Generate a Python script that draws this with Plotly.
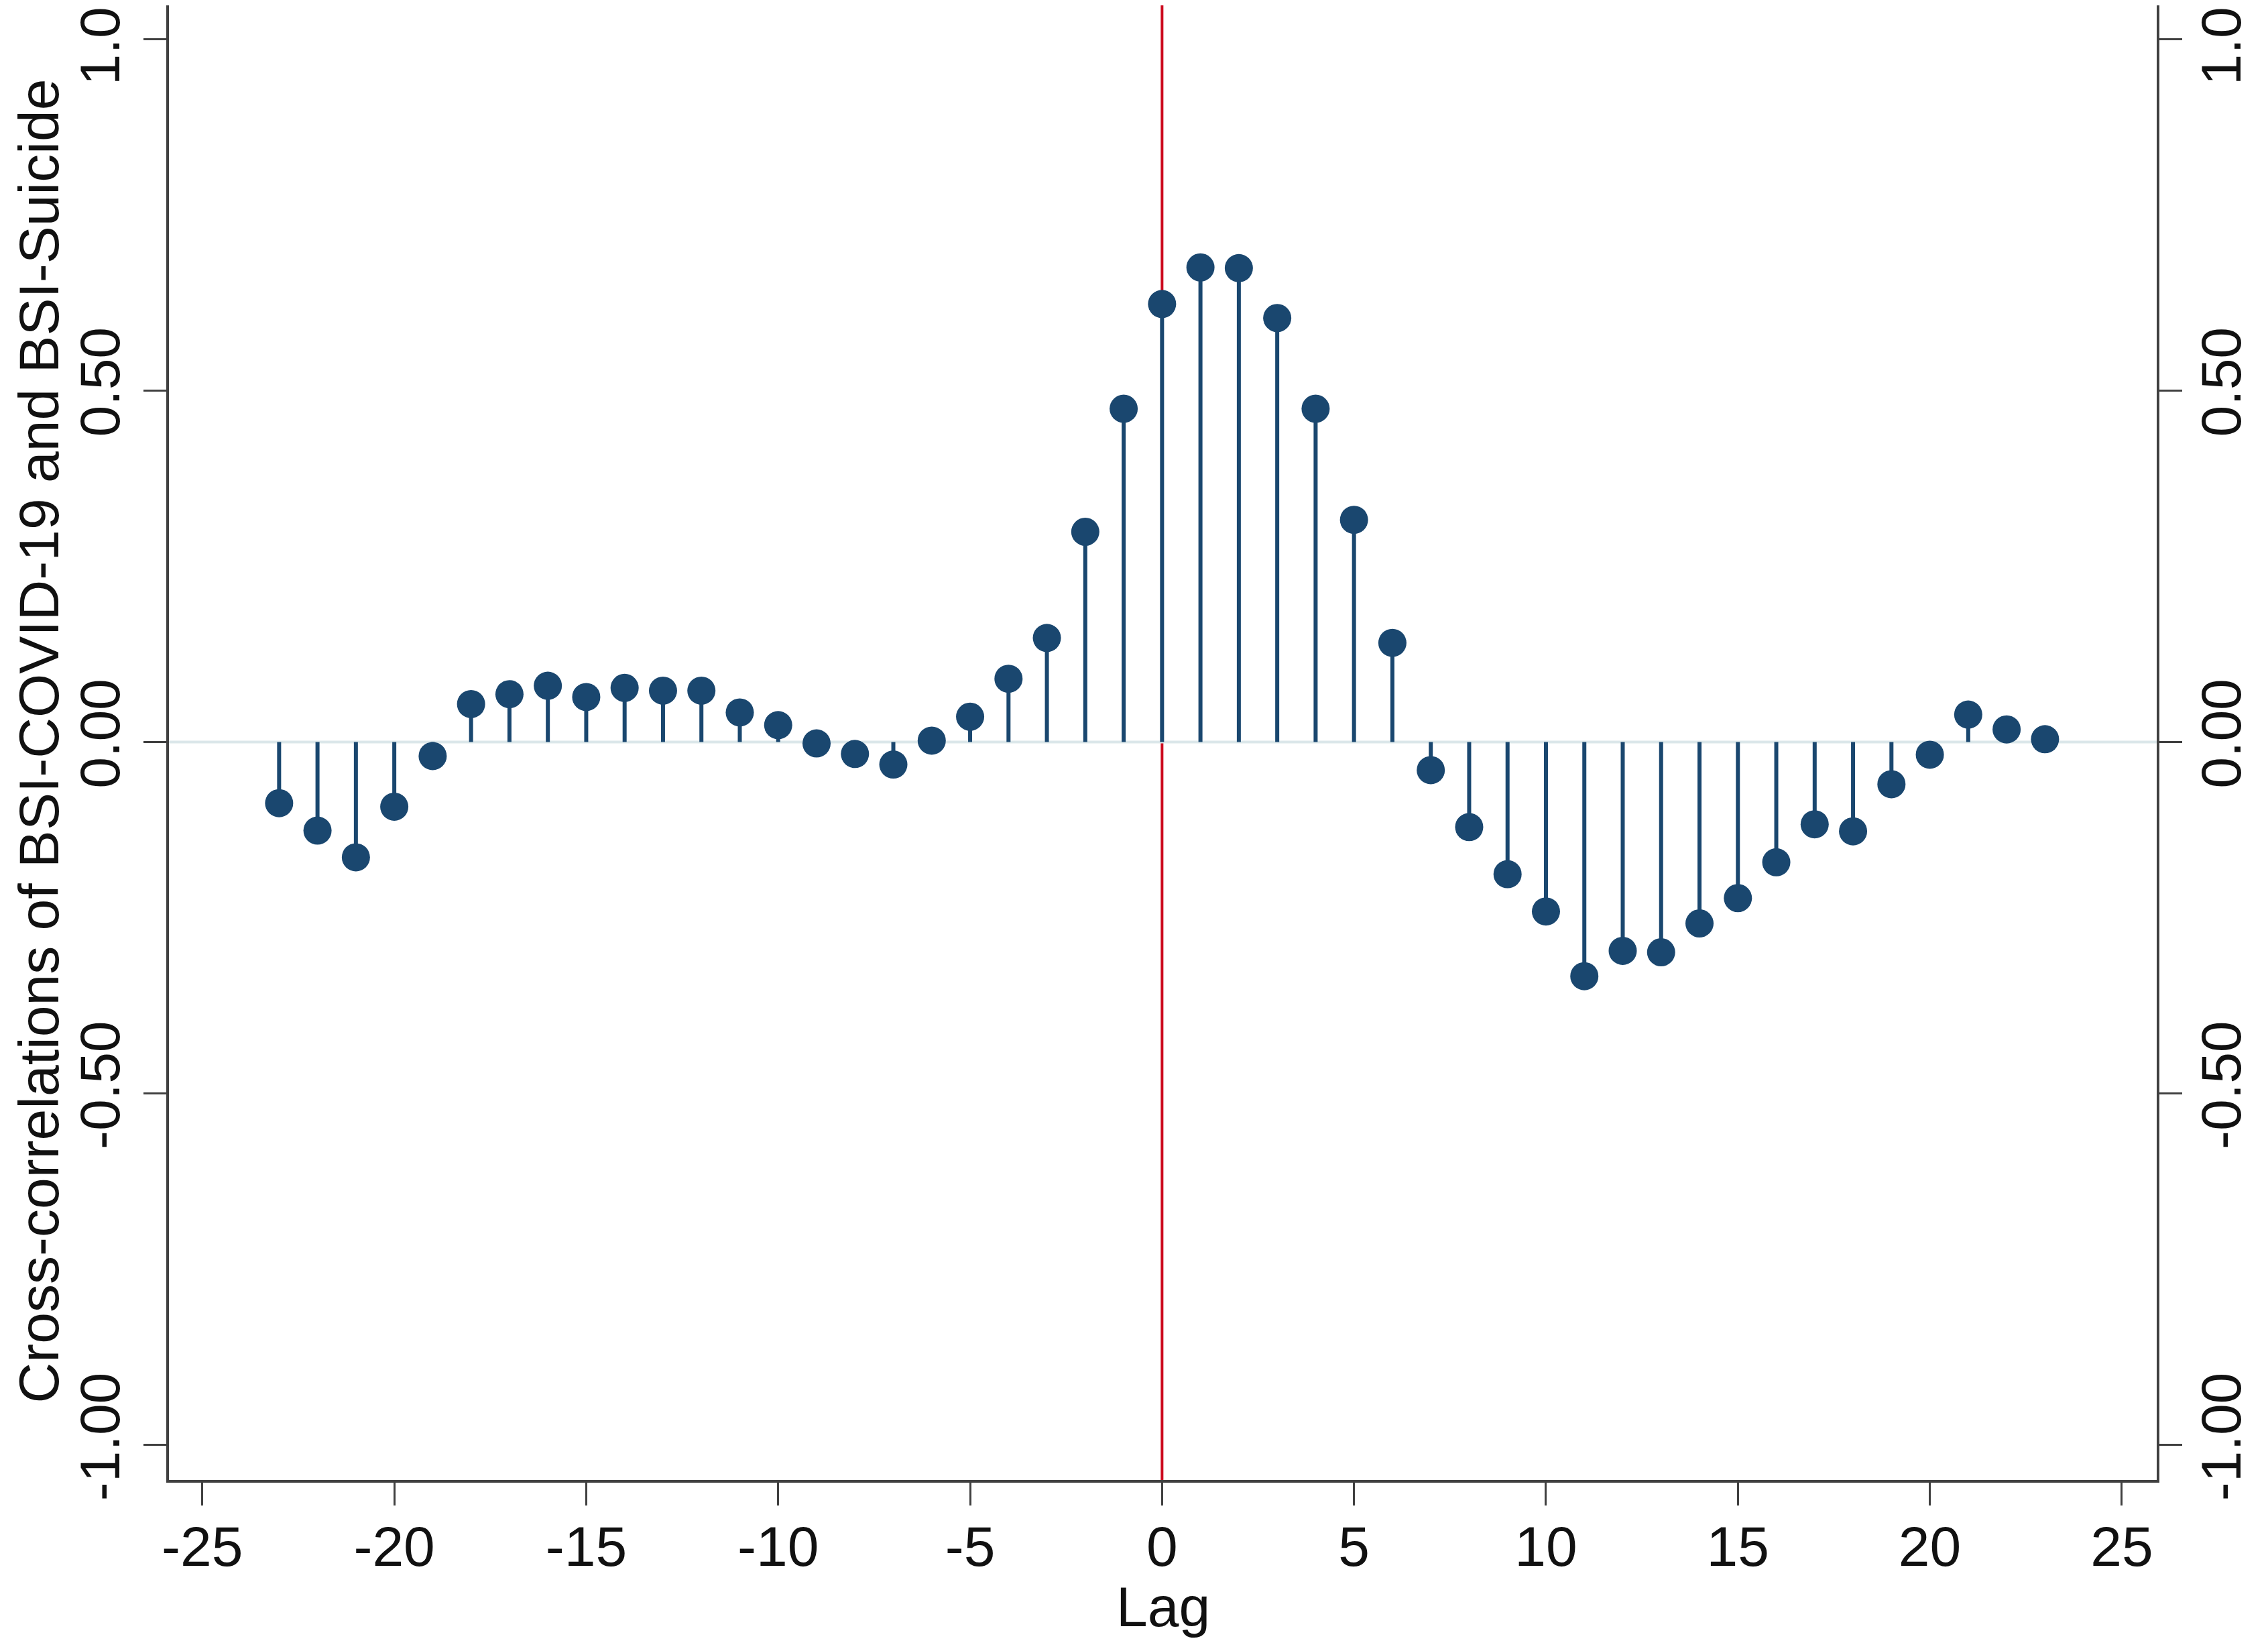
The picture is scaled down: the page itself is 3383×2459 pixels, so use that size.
"""Cross-correlogram BSI-COVID-19 vs BSI-Suicide (Stata-Stil) in Plotly."""
import plotly.graph_objects as go

# Lags und Kreuzkorrelationen
lags = list(range(-23, 24))
xcorr = [
    -0.087, -0.126, -0.164, -0.092, -0.020, 0.054, 0.068, 0.080, 0.064, 0.077,
    0.073, 0.073, 0.042, 0.024, -0.002, -0.017, -0.032, 0.002, 0.036, 0.090,
    0.148, 0.299, 0.474, 0.623, 0.675, 0.674, 0.603, 0.474, 0.316, 0.141,
    -0.040, -0.121, -0.188, -0.241, -0.333, -0.297, -0.299, -0.258, -0.222,
    -0.171, -0.117, -0.127, -0.060, -0.018, 0.039, 0.018, 0.004,
]

x_ticks = [-25, -20, -15, -10, -5, 0, 5, 10, 15, 20, 25]
x_ticktext = ["-25", "-20", "-15", "-10", "-5", "0", "5", "10", "15", "20", "25"]
y_ticks = [-1.0, -0.5, 0.0, 0.5, 1.0]
y_ticktext = ["-1.00", "-0.50", "0.00", "0.50", "1.00"]

NAVY = "#1a476f"
FONT = "Liberation Sans, Arial, sans-serif"
FS = 84

# Stiele: Segmente von 0 bis Wert, durch None getrennt
stem_x, stem_y = [], []
for lag, val in zip(lags, xcorr):
    stem_x += [lag, lag, None]
    stem_y += [0, val, None]

xrange_ = [-25.87, 25.91]
yrange = [-1.0496, 1.0477]  # oben abgeschnitten wie in der Vorlage

fig = go.Figure()
fig.add_trace(go.Scatter(
    x=xrange_, y=[0, 0], mode="lines",
    line=dict(color="#dbe7ea", width=4), hoverinfo="skip", showlegend=False,
))
fig.add_trace(go.Scatter(
    x=stem_x, y=stem_y, mode="lines",
    line=dict(color=NAVY, width=6), hoverinfo="skip", showlegend=False,
))
fig.add_trace(go.Scatter(
    x=lags, y=xcorr, mode="markers",
    marker=dict(color=NAVY, size=42, line=dict(width=0)), showlegend=False,
))
# Unsichtbare Spur fuer die rechte Achse
fig.add_trace(go.Scatter(
    x=[0], y=[0], yaxis="y2", mode="markers",
    marker=dict(opacity=0), hoverinfo="skip", showlegend=False,
))

# rote Linie bei Lag 0
fig.add_shape(
    type="line", xref="x", yref="paper", x0=0, x1=0, y0=0, y1=1,
    line=dict(color="#cc0a1e", width=4), layer="below",
)

axis_common = dict(
    showgrid=False, zeroline=False, showline=True, linecolor="#404040",
    linewidth=4, ticks="outside", ticklen=34, tickwidth=3, tickcolor="#404040",
    tickfont=dict(family=FONT, size=FS, color="#111111"),
    ticklabeloverflow="allow", automargin=False,
)

fig.update_layout(
    width=3367, height=2443,
    margin=dict(l=244, r=158, t=0, b=244),
    paper_bgcolor="white", plot_bgcolor="white",
    font=dict(family=FONT, color="#111111"),
    xaxis=dict(
        **axis_common, range=xrange_,
        tickvals=x_ticks, ticktext=x_ticktext, ticklabelstandoff=-11,
    ),
    yaxis=dict(
        **axis_common, range=yrange, tickvals=y_ticks, ticktext=y_ticktext,
        tickangle=-90, ticklabelstandoff=2,
    ),
    yaxis2=dict(
        **axis_common, range=yrange, tickvals=y_ticks, ticktext=y_ticktext,
        tickangle=-90, overlaying="y", side="right", ticklabelstandoff=-14,
    ),
    annotations=[
        dict(text="Lag", xref="paper", yref="paper", x=0.5, y=-0.0858,
             xanchor="center", yanchor="middle", showarrow=False,
             font=dict(family=FONT, size=FS, color="#111111")),
        dict(text="Cross-correlations of BSI-COVID-19 and BSI-Suicide",
             xref="paper", yref="paper", x=-0.0654, y=0.501, textangle=-90,
             xanchor="center", yanchor="middle", showarrow=False,
             font=dict(family=FONT, size=FS, color="#111111")),
    ],
)

fig.write_html("out.html")
